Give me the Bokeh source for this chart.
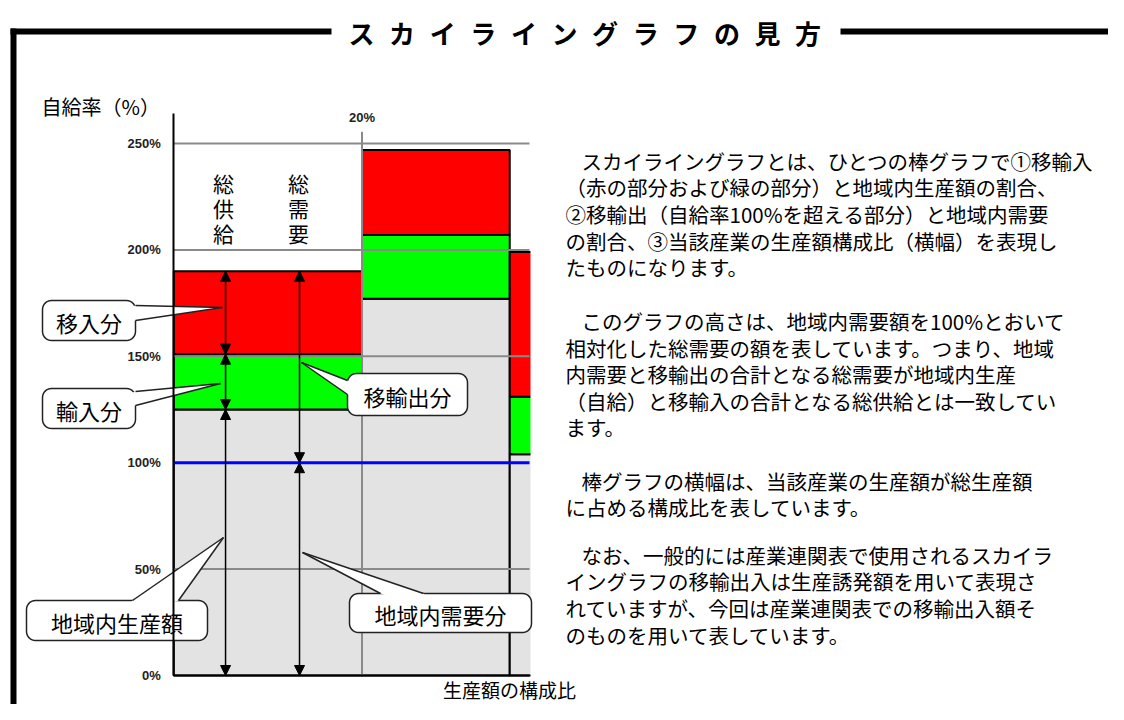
import numpy as np
from bokeh.plotting import figure
from bokeh.models import Range1d, LinearAxis, FixedTicker, Arrow, NormalHead
from bokeh.core.properties import value
from bokeh.embed import file_html
from bokeh.resources import INLINE

# ---------------- data ----------------
industries = ["産業A", "産業B", "産業C"]
share = [20.0, 15.7, 6.0]          # 生産額の構成比 (%) -> bar widths
local_prod = [125, 177, 104]       # 地域内生産額 (gray)
imports = [26, 30, 27]             # 輸入分 (green)
inflows = [39, 40, 68]             # 移入分 (red)
demand_line = 100                  # 地域内需要 = 100%
y_ticks = [0, 50, 100, 150, 200, 250]
y_tick_labels = ["0%", "50%", "100%", "150%", "200%", "250%"]
x_ticks = [20]
x_tick_labels = ["20%"]
x_visible = 37.8                   # right limit of the visible chart area

title_text = "スカイライングラフの見方"
y_label = "自給率（%）"
x_label = "生産額の構成比"
# first line of every paragraph is indented (drawn further right)
paragraphs = [
    ["スカイライングラフとは、ひとつの棒グラフで①移輸入",
     "（赤の部分および緑の部分）と地域内生産額の割合、",
     "②移輸出（自給率100%を超える部分）と地域内需要",
     "の割合、③当該産業の生産額構成比（横幅）を表現し",
     "たものになります。"],
    ["このグラフの高さは、地域内需要額を100%とおいて",
     "相対化した総需要の額を表しています。つまり、地域",
     "内需要と移輸出の合計となる総需要が地域内生産",
     "（自給）と移輸入の合計となる総供給とは一致してい",
     "ます。"],
    ["棒グラフの横幅は、当該産業の生産額が総生産額",
     "に占める構成比を表しています。"],
    ["なお、一般的には産業連関表で使用されるスカイラ",
     "イングラフの移輸出入は生産誘発額を用いて表現さ",
     "れていますが、今回は産業連関表での移輸出入額そ",
     "のものを用いて表しています。"],
]
para_y = [[160, 186, 213, 240, 266], [320, 347, 373, 400, 426], [480, 506], [554, 580, 607, 634]]

# ---------------- layout calibration ----------------
W, H, M = 1108, 704, 0
X0, XS = 173.3, 9.41     # page x of 0 %, px per % (width axis)
Y0, YS = 675.0, 2.128    # page y of 0 %, px per % (height axis)
JP = value("Noto Sans CJK JP")
NUMF = value("Liberation Sans")
INK = "#000000"

p = figure(width=W, height=H, output_backend="svg", toolbar_location=None,
           x_range=Range1d((M - X0) / XS, (M + W - X0) / XS),
           y_range=Range1d((Y0 - (M + H)) / YS, (Y0 - M) / YS),
           x_axis_location=None, y_axis_location=None, min_border=0)
p.outline_line_color = None
p.xgrid.visible = False
p.ygrid.visible = False
p.background_fill_color = "white"
p.border_fill_color = "white"
p.extra_x_ranges = {"px": Range1d(M, M + W)}
p.extra_y_ranges = {"px": Range1d(M + H, M)}
PX = dict(x_range_name="px", y_range_name="px")

# ---------------- bars ----------------
w = np.array(share)
left = np.concatenate([[0.0], np.cumsum(w)[:-1]])
right = left + w
g_top = np.array(local_prod, dtype=float)
gr_top = g_top + np.array(imports)
r_top = gr_top + np.array(inflows)
p.quad(left=left, right=right, bottom=0, top=g_top, fill_color="#E3E3E3", line_color="black", line_width=2)
p.quad(left=left, right=right, bottom=g_top, top=gr_top, fill_color="#00FF00", line_color="black", line_width=2)
p.quad(left=left, right=right, bottom=gr_top, top=r_top, fill_color="#FF0000", line_color="black", line_width=2)

# gridlines (drawn over the bars)
hg = [t for t in y_ticks if t not in (0, demand_line)]
p.segment(x0=[0] * len(hg), y0=hg, x1=[x_visible] * len(hg), y1=hg, line_color="#8A8A8A", line_width=2)
p.segment(x0=x_ticks, y0=[0] * len(x_ticks), x1=x_ticks, y1=[255.5] * len(x_ticks), line_color="#8A8A8A", line_width=2)
p.segment(x0=[0], y0=[demand_line], x1=[x_visible], y1=[demand_line], line_color="#0000FF", line_width=3)

# clip the chart area on the right
p.quad(left=[X0 + XS * x_visible + 1], right=[580], top=[145], bottom=[679], fill_color="white", line_color=None, **PX)

# axes
yaxis = LinearAxis(fixed_location=0, bounds=(0, 264), ticker=FixedTicker(ticks=y_ticks),
                   major_label_overrides=dict(zip(y_ticks, y_tick_labels)),
                   major_tick_line_color=None, minor_tick_line_color=None,
                   axis_line_width=2, axis_line_color="black",
                   major_label_text_font="Liberation Sans", major_label_text_font_style="bold",
                   major_label_text_font_size="13px", major_label_standoff=7,
                   major_label_text_color="#222222")
p.add_layout(yaxis, "left")
xaxis = LinearAxis(fixed_location=0, bounds=(0, x_visible), ticker=FixedTicker(ticks=[]),
                   major_tick_line_color=None, minor_tick_line_color=None,
                   axis_line_width=2, axis_line_color="black")
p.add_layout(xaxis, "below")
p.text(x=x_ticks, y=[117] * len(x_ticks), text=x_tick_labels, text_font=NUMF, text_font_style="bold",
       text_font_size="13px", text_align="center", text_baseline="middle", text_color="#222222",
       y_range_name="px")

# arrows: 総供給 (stack of bar 1) and 総需要 (demand + outflow)
xs_sup = share[0] * 0.275
xs_dem = share[0] * 0.668
sup_levels = [0, g_top[0], gr_top[0], r_top[0]]
dem_levels = [0, demand_line, r_top[0]]
for xa, lv in ((xs_sup, sup_levels), (xs_dem, dem_levels)):
    for a, b in zip(lv[:-1], lv[1:]):
        p.add_layout(Arrow(start=NormalHead(size=10, fill_color="black", line_color="black", line_width=1),
                           end=NormalHead(size=10, fill_color="black", line_color="black", line_width=1),
                           x_start=xa, y_start=a, x_end=xa, y_end=b, line_width=1.5, line_color="black"))

for cx, chars in ((223, "総供給"), (298, "総需要")):
    p.text(x=[cx] * 3, y=[182, 207, 232], text=list(chars), text_font=JP, text_font_size="21px",
           text_align="center", text_baseline="middle", text_color=INK, **PX)


# ---------------- callouts ----------------
def rrect(x0, y0, x1, y1, r):
    xs, ys = [], []
    corners = [(x1 - r, y0 + r, -90, 0), (x1 - r, y1 - r, 0, 90), (x0 + r, y1 - r, 90, 180), (x0 + r, y0 + r, 180, 270)]
    for cx, cy, a0, a1 in corners:
        t = np.radians(np.linspace(a0, a1, 8))
        xs.extend(cx + r * np.cos(t))
        ys.extend(cy + r * np.sin(t))
    return xs, ys


callouts = [
    ("移入分", (42, 300, 135, 340), ((135, 305), (135, 320)), (222, 307)),
    ("輸入分", (42, 388, 135, 428), ((135, 391), (135, 405)), (220, 383)),
    ("移輸出分", (347, 373, 467, 415), ((347, 380), (347, 394)), (301, 362)),
    ("地域内生産額", (26, 600, 207, 640), ((132, 600), (178, 600)), (223, 537)),
    ("地域内需要分", (349, 593, 531, 632), ((380, 593), (423, 593)), (302, 552)),
]
for label, (x0, y0, x1, y1), (b1, b2), tip in callouts:
    xs, ys = rrect(x0, y0, x1, y1, 9)
    p.patch(xs, ys, fill_color="white", line_color="#222222", line_width=1.5, **PX)
    cxm, cym = (x0 + x1) / 2, (y0 + y1) / 2
    p.patch([b1[0], tip[0], b2[0], cxm], [b1[1], tip[1], b2[1], cym], fill_color="white", line_color=None, **PX)
    p.multi_line([[b1[0], tip[0]], [b2[0], tip[0]]], [[b1[1], tip[1]], [b2[1], tip[1]]],
                 line_color="#222222", line_width=1.5, **PX)
    p.text(x=[cxm], y=[cym + 1], text=[label], text_font=JP, text_font_size="22px",
           text_align="center", text_baseline="middle", text_color=INK, **PX)

# ---------------- frame & title ----------------
p.segment(x0=[10, 840, 13], y0=[31, 31, 28], x1=[331, 1130, 13], y1=[31, 31, 730],
          line_color="black", line_width=6, **PX)
tx = 361 + 40.6 * np.arange(len(title_text))
p.text(x=tx, y=[32] * len(title_text), text=list(title_text), text_font=JP, text_font_style="bold",
       text_font_size="26px", text_align="center", text_baseline="middle", text_color=INK, **PX)

p.text(x=[41], y=[106], text=[y_label], text_font=JP, text_font_size="20px",
       text_align="left", text_baseline="middle", text_color=INK, **PX)
p.text(x=[509], y=[689], text=[x_label], text_font=JP, text_font_size="19px",
       text_align="center", text_baseline="middle", text_color=INK, **PX)

# ---------------- explanatory paragraphs ----------------
lx, ly, lt = [], [], []
for lines, ys_ in zip(paragraphs, para_y):
    for i, (s, yy) in enumerate(zip(lines, ys_)):
        lx.append(581 if i == 0 else 565)
        ly.append(yy)
        lt.append(s)
p.text(x=lx, y=ly, text=lt, text_font=JP, text_font_size="20.5px", text_align="left",
       text_baseline="middle", text_color=INK, **PX)

open("out.html", "w").write(file_html(p, INLINE))
